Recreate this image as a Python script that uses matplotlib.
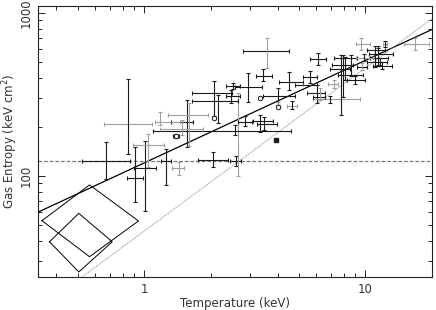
import matplotlib
matplotlib.use("Agg")
import matplotlib.pyplot as plt
from matplotlib.ticker import LogLocator, NullFormatter, FixedLocator, FixedFormatter

# ---------------- data ----------------
T    = [0.844, 0.672, 0.908, 1.007, 1.039, 1.253, 1.435, 1.39, 2.04, 2.596, 2.64, 2.569,
        1.56, 1.592, 1.48, 1.177, 2.064, 2.15, 2.064, 2.464, 2.515, 3.583, 3.436, 2.94,
        6.09, 4.505, 5.6, 4.018, 4.65, 4.018, 3.332, 2.85, 3.332, 3.472, 3.935, 5.485,
        6.03, 6.9, 7.19, 6.21, 7.73, 7.9, 8.58, 8.06, 8.95, 11.02, 11.37, 11.37, 11.61,
        11.85, 9.83, 9.63, 12.22, 9.53, 16.7]
T_lo = [0.658, 0.523, 0.835, 0.898, 0.889, 1.19, 1.334, 1.35, 1.748, 2.438, 2.64, 1.095,
        1.32, 1.279, 1.177, 1.117, 1.643, 1.643, 2.064, 2.339, 2.339, 2.792, 3.195, 2.569,
        5.6, 4.058, 5.21, 3.436, 4.41, 4.018, 3.332, 2.65, 3.097, 3.228, 3.935, 4.795,
        5.43, 5.78, 6.755, 5.78, 6.9, 7.5, 7.19, 7.04, 8.23, 10.36, 10.46, 10.15, 10.15,
        10.79, 9.04, 9.14, 12.0, 9.04, 14.89]
T_hi = [1.083, 0.862, 0.986, 1.129, 1.227, 1.32, 1.51, 1.435, 2.388, 2.734, 2.64, 4.6,
        1.66, 1.94, 1.841, 1.45, 2.49, 2.65, 2.064, 2.705, 2.705, 4.505, 3.776, 3.401,
        6.615, 5.21, 6.03, 4.795, 4.895, 4.018, 3.332, 3.06, 3.81, 3.976, 3.935, 6.03,
        6.55, 9.435, 7.5, 6.55, 8.49, 9.73, 9.14, 8.76, 9.94, 13.28, 12.61, 12.22, 12.48,
        13.14, 10.79, 10.15, 12.5, 10.46, 19.3]
K    = [208, 123, 97, 112, 155, 124, 112, 176, 125, 124, 124, 189,
        214, 237, 194, 214, 323, 286, 227, 310, 357, 585, 411, 352,
        522, 377, 405, 310, 269, 265, 301, 214, 218, 207, 166, 362,
        323, 298, 367, 305, 453, 417, 530, 480, 388, 560, 530, 593, 500,
        473, 530, 467, 645, 645, 645]
K_lo = [136, 96, 69, 61, 114, 88, 101, 171, 113, 115, 100, 178,
        151, 153, 178, 206, 230, 212, 222, 281, 342, 460, 383, 285,
        480, 337, 372, 273, 258, 258, 297, 201, 186, 191, 166, 314,
        281, 281, 347, 293, 237, 305, 411, 388, 367, 467, 480, 560, 480,
        453, 508, 447, 618, 593, 593]
K_hi = [394, 162, 151, 164, 181, 146, 122, 181, 140, 133, 323, 206,
        293, 281, 221, 247, 383, 314, 232, 337, 372, 702, 453, 428,
        569, 434, 441, 347, 289, 285, 305, 233, 237, 230, 166, 399,
        362, 310, 388, 347, 552, 552, 552, 537, 411, 628, 610, 628, 530,
        500, 560, 493, 673, 702, 702]
# sample of each bar: 'A' = dark, 'B' = grey, '-' = not drawn
x_sample = list("GAAAGAGAAA-AAGGGAA-AAAAAAAAAG--AAA-AAGGAAAAAAAAAAAGAGGG".replace("G", "B"))
y_sample = list("AAAAGAGAAABAAGGGAAAAABAAAAAAAGAAAAA-AAGGAAAAAAAAAAAGAGGG".replace("G", "B"))
point_marker = ["", "", "", "", "", "", "", "o", "", "", "", "",
                "", "", "", "", "", "", "o", "", "", "", "", "",
                "", "", "", "", "", "o", "o", "", "", "", "s", "",
                "", "", "", "", "", "", "", "", "", "", "", "", "",
                "", "", "", "", "", ""]

# relations
fit_T = [0.33, 20.0]
fit_K = [60.0, 790.0]
selfsim_T = [0.33, 20.0]
selfsim_K = [15.2, 920.0]
floor_K = 124.0
diamond1_T = [0.344, 0.5645, 0.94, 0.5645, 0.344]
diamond1_K = [53.2, 88.1, 53.0, 32.0, 53.2]
diamond2_T = [0.372, 0.505, 0.715, 0.505, 0.372]
diamond2_K = [39.5, 59.0, 39.5, 25.8, 39.5]

x_ticks = [1, 10]
x_ticklabels = ["1", "10"]
y_ticks = [100, 1000]
y_ticklabels = ["100", "1000"]

# ---------------- figure ----------------
plt.rcParams["font.family"] = ["DejaVu Sans"]
fig = plt.figure(figsize=(4.36, 3.10), dpi=100)
ax = fig.add_axes([38 / 436, 1 - 276.5 / 310, (432 - 38) / 436, (276.5 - 6) / 310])
ax.set_xscale("log")
ax.set_yscale("log")
ax.set_xlim(0.33, 20)
ax.set_ylim(24.2, 1100)

colors = {"A": "#1a1a1a", "B": "#a0a0a0"}
for i in range(len(T)):
    if x_sample[i] != "-":
        ax.errorbar([T[i]], [K[i]], xerr=[[T[i] - T_lo[i]], [T_hi[i] - T[i]]], fmt="none",
                    ecolor=colors[x_sample[i]], elinewidth=0.8, capsize=1.3, capthick=0.8, zorder=3)
    if y_sample[i] != "-":
        ax.errorbar([T[i]], [K[i]], yerr=[[K[i] - K_lo[i]], [K_hi[i] - K[i]]], fmt="none",
                    ecolor=colors[y_sample[i]], elinewidth=0.8, capsize=1.3, capthick=0.8, zorder=3)
    if point_marker[i] == "o":
        ax.plot([T[i]], [K[i]], "o", ms=3.2, mfc="white", mec="#1a1a1a", mew=0.7, zorder=4)
    elif point_marker[i] == "s":
        ax.plot([T[i]], [K[i]], "s", ms=2.3, color="#1a1a1a", zorder=4)

ax.plot(fit_T, fit_K, color="black", lw=0.9, zorder=2)
ax.plot(selfsim_T, selfsim_K, color="#999999", lw=0.7, ls=(0, (1.2, 0.8)), zorder=2)
ax.axhline(floor_K, color="#777777", lw=0.9, ls=(0, (3, 1.5)), zorder=2)
ax.plot(diamond1_T, diamond1_K, color="black", lw=0.7, zorder=2)
ax.plot(diamond2_T, diamond2_K, color="black", lw=0.7, zorder=2)

# ticks
ax.xaxis.set_major_locator(FixedLocator(x_ticks))
ax.xaxis.set_major_formatter(FixedFormatter(x_ticklabels))
ax.xaxis.set_minor_locator(LogLocator(base=10, subs=range(2, 10)))
ax.xaxis.set_minor_formatter(NullFormatter())
ax.yaxis.set_major_locator(FixedLocator(y_ticks))
ax.yaxis.set_major_formatter(FixedFormatter(y_ticklabels))
ax.yaxis.set_minor_locator(LogLocator(base=10, subs=range(2, 10)))
ax.yaxis.set_minor_formatter(NullFormatter())
ax.tick_params(which="both", direction="in", top=True, right=True, width=0.7, colors="#222222",
               labelsize=8.5, labelcolor="#333333")
ax.tick_params(which="major", length=5)
ax.tick_params(which="minor", length=3)
ax.tick_params(axis="x", pad=4.5)
ax.tick_params(axis="y", pad=4)
for lab in ax.get_yticklabels():
    lab.set_rotation(90)
    lab.set_va("center")
for sp in ax.spines.values():
    sp.set_linewidth(0.8)
    sp.set_color("#222222")

ax.set_xlabel("Temperature (keV)", fontsize=8.5, color="#333333")
ax.set_ylabel(r"Gas Entropy (keV cm$^2$)", fontsize=8.5, color="#333333")
ax.xaxis.set_label_coords(0.5, -0.077)
ax.yaxis.set_label_coords(-0.046, 0.5)

fig.savefig("out.png", dpi=100)
